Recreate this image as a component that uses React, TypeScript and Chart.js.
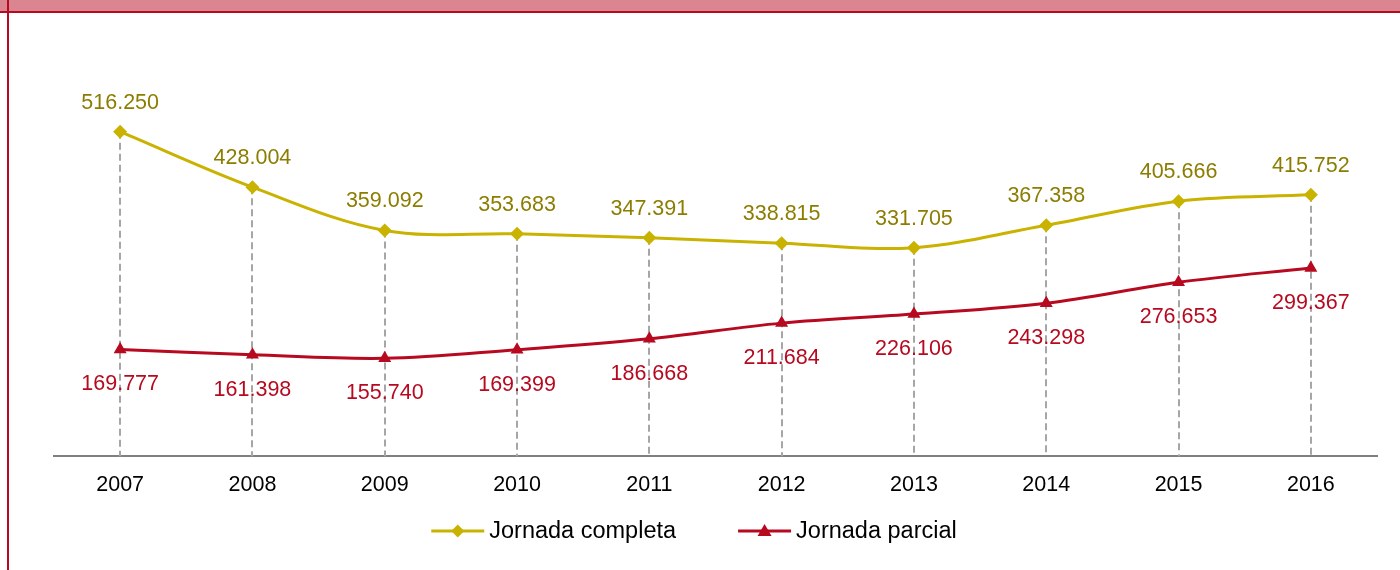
import React, { useEffect, useRef } from "react";
import { Chart, registerables } from "chart.js";

Chart.register(...registerables);

const years = ["2007", "2008", "2009", "2010", "2011", "2012", "2013", "2014", "2015", "2016"];
const jornadaCompleta = [516250, 428004, 359092, 353683, 347391, 338815, 331705, 367358, 405666, 415752];
const jornadaParcial = [169777, 161398, 155740, 169399, 186668, 211684, 226106, 243298, 276653, 299367];
const seriesNames = ["Jornada completa", "Jornada parcial"];

const GOLD = "#C9B300";
const GOLD_TEXT = "#8C7D00";
const RED = "#B7091F";
const RED_TEXT = "#B7091F";
const FONT = "'Liberation Sans', Arial, sans-serif";

function fmt(v: number): string {
  return String(Math.round(v)).replace(/\B(?=(\d{3})+(?!\d))/g, ".");
}

const dropLines = {
  id: "dropLines",
  beforeDatasetsDraw(chart: any) {
    const ctx = chart.ctx;
    const meta = chart.getDatasetMeta(0);
    const bottom = chart.chartArea.bottom;
    ctx.save();
    ctx.strokeStyle = "#A6A6A6";
    ctx.lineWidth = 2;
    ctx.setLineDash([7, 4]);
    meta.data.forEach((pt: any) => {
      ctx.beginPath();
      ctx.moveTo(Math.round(pt.x), pt.y);
      ctx.lineTo(Math.round(pt.x), bottom);
      ctx.stroke();
    });
    ctx.restore();
  },
};

const valueLabels = {
  id: "valueLabels",
  afterDatasetsDraw(chart: any) {
    const ctx = chart.ctx;
    ctx.save();
    ctx.font = `21.5px ${FONT}`;
    ctx.textAlign = "center";
    ctx.textBaseline = "middle";
    chart.data.datasets.forEach((ds: any, i: number) => {
      const meta = chart.getDatasetMeta(i);
      ctx.fillStyle = i === 0 ? GOLD_TEXT : RED_TEXT;
      meta.data.forEach((pt: any, j: number) => {
        const y = i === 0 ? pt.y - 29 : pt.y + 35;
        ctx.fillText(fmt(ds.data[j]), pt.x, y);
      });
    });
    ctx.restore();
  },
};

const customLegend = {
  id: "customLegend",
  afterDraw(chart: any) {
    const ctx = chart.ctx;
    ctx.save();
    ctx.font = `23.5px ${FONT}`;
    ctx.textBaseline = "middle";
    const lineW = 53;
    const gap = 5;
    const itemGap = 62;
    const widths = seriesNames.map((n) => lineW + gap + ctx.measureText(n).width);
    const total = widths.reduce((a, b) => a + b, 0) + itemGap;
    let x = 694 - total / 2;
    const y = 531;
    seriesNames.forEach((name, i) => {
      const color = i === 0 ? GOLD : RED;
      ctx.strokeStyle = color;
      ctx.fillStyle = color;
      ctx.lineWidth = 3;
      ctx.beginPath();
      ctx.moveTo(x, y);
      ctx.lineTo(x + lineW, y);
      ctx.stroke();
      const cx = x + lineW / 2;
      ctx.beginPath();
      if (i === 0) {
        const r = 6.5;
        ctx.moveTo(cx, y - r);
        ctx.lineTo(cx + r, y);
        ctx.lineTo(cx, y + r);
        ctx.lineTo(cx - r, y);
      } else {
        ctx.moveTo(cx, y - 7);
        ctx.lineTo(cx + 7, y + 5);
        ctx.lineTo(cx - 7, y + 5);
      }
      ctx.closePath();
      ctx.fill();
      ctx.fillStyle = "#000000";
      ctx.fillText(name, x + lineW + gap, y + 1);
      x += widths[i] + itemGap;
    });
    ctx.restore();
  },
};

export default function App() {
  const ref = useRef<HTMLCanvasElement | null>(null);

  useEffect(() => {
    if (!ref.current) return;
    const chart = new Chart(ref.current, {
      type: "line",
      data: {
        labels: years,
        datasets: [
          {
            label: seriesNames[0],
            data: jornadaCompleta,
            borderColor: GOLD,
            backgroundColor: GOLD,
            borderWidth: 3,
            tension: 0.35,
            pointStyle: "rectRot",
            pointRadius: 7,
            pointBorderWidth: 0,
            fill: false,
          },
          {
            label: seriesNames[1],
            data: jornadaParcial,
            borderColor: RED,
            backgroundColor: RED,
            borderWidth: 3,
            tension: 0.35,
            pointStyle: "triangle",
            pointRadius: 7.5,
            pointBorderWidth: 0,
            fill: false,
          },
        ],
      },
      options: {
        animation: false,
        responsive: false,
        maintainAspectRatio: false,
        layout: { padding: { left: 54, right: 23, top: 79, bottom: 56 } },
        plugins: {
          legend: { display: false },
          tooltip: { enabled: false },
          title: { display: false },
        },
        scales: {
          x: {
            offset: true,
            grid: { display: false, drawTicks: false },
            border: { display: true, color: "#808080", width: 2 },
            ticks: {
              color: "#000000",
              padding: 16,
              font: { family: FONT, size: 21.5 },
            },
          },
          y: {
            display: false,
            min: 0,
            max: 600000,
          },
        },
      },
      plugins: [dropLines, valueLabels, customLegend],
    });
    return () => chart.destroy();
  }, []);

  return (
    <div style={{ position: "fixed", left: 0, top: 0, width: 1400, height: 570, background: "#ffffff", overflow: "hidden" }}>
      <div style={{ position: "absolute", left: 0, top: 0, width: 1400, height: 11, background: "#DA858F" }} />
      <div style={{ position: "absolute", left: 0, top: 11, width: 1400, height: 2, background: "#B7091F" }} />
      <div style={{ position: "absolute", left: 7, top: 0, width: 2, height: 570, background: "#B7091F" }} />
      <canvas ref={ref} width={1400} height={570} style={{ position: "absolute", left: 0, top: 0, width: 1400, height: 570 }} />
    </div>
  );
}
